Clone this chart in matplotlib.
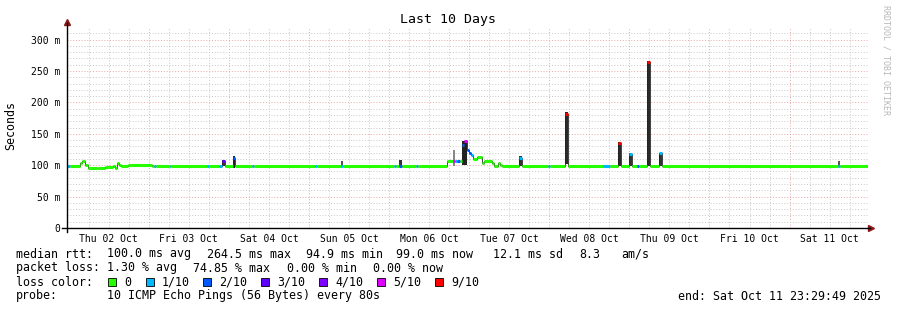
import matplotlib
matplotlib.use('Agg')
import matplotlib.pyplot as plt
from matplotlib.patches import Rectangle
import numpy as np

plt.rcParams['font.family'] = ['DejaVu Sans Mono']

# time axis: hours since Thu 02 Oct 00:00
day_labels = ['Thu 02 Oct', 'Fri 03 Oct', 'Sat 04 Oct', 'Sun 05 Oct', 'Mon 06 Oct',
              'Tue 07 Oct', 'Wed 08 Oct', 'Thu 09 Oct', 'Fri 10 Oct', 'Sat 11 Oct']
t_start, t_end = -0.5, 239.5

# median rtt (ms) as steps: start hour, value, loss class
med_hours = [-0.5, 0.4, 3.4, 4.0, 4.9, 5.8, 8.8, 10.9, 13.3, 13.9, 14.5, 15.1, 15.7, 17.8,
             25.0, 25.6, 26.2, 30.4, 30.8, 41.4, 42.0, 45.0, 45.9, 46.8, 49.2, 49.8,
             54.9, 55.5, 73.8, 74.4, 81.6, 82.2, 97.5, 98.1, 99.0, 99.9, 104.0, 104.6,
             113.3, 115.1, 115.7, 116.3, 117.2, 117.8, 118.5, 119.3, 119.9, 120.5, 121.1,
             122.3, 123.8, 124.4, 126.8, 127.4, 128.6, 129.2, 129.8, 134.9, 135.8,
             143.6, 144.2, 148.7, 149.6, 160.1, 162.2, 164.6, 165.5, 167.9, 168.8,
             170.3, 170.9, 173.3, 174.2, 176.9, 177.8, 230.5, 231.1]
med_ms = [98, 98, 103, 106, 100, 95, 95.5, 97, 99, 96, 104, 101, 98, 101,
          99.5, 99, 99, 99, 99, 99, 99, 99, 106, 99, 112, 99,
          99, 99, 99, 99, 99, 99, 99, 99, 99, 99, 99, 99,
          107, 107, 107, 107, 107, 132, 138, 124, 119, 116, 110,
          113, 104, 107, 103, 98, 104, 100, 99, 112, 99,
          99, 99, 182, 99, 99, 99, 136, 99, 118, 99,
          99, 99, 264, 99, 119, 99, 99, 99]
med_loss = [1, 0, 0, 0, 0, 0, 0, 0, 0, 0, 0, 0, 0, 0,
            0, 1, 0, 1, 0, 1, 0, 1, 3, 0, 2, 0,
            1, 0, 1, 0, 1, 0, 1, 0, 2, 0, 1, 0,
            0, 5, 1, 2, 0, 2, 5, 2, 2, 1, 0,
            0, 0, 0, 0, 0, 0, 0, 0, 1, 0,
            1, 0, 6, 0, 1, 0, 6, 0, 1, 0,
            2, 0, 6, 0, 1, 0, 1, 0]

# smoke columns: start hour, width (h), low ms, high ms, shade
smoke_hours = [45.9, 49.2, 81.6, 99.0, 115.3, 117.8, 134.9, 148.7, 164.6, 167.9, 173.3, 176.9, 230.5]
smoke_width = [0.9, 0.6, 0.6, 0.9, 0.6, 1.5, 0.9, 0.9, 0.9, 0.9, 0.9, 0.9, 0.6]
smoke_low = [99, 95, 99, 99, 99, 100, 99, 102, 99, 99, 99, 99, 99]
smoke_high = [108, 114, 107, 108, 124, 138, 114, 184, 137, 120, 266, 120, 107]
smoke_shade = ['#333333', '#222222', '#555555', '#333333', '#888888', '#222222', '#333333',
               '#2a2a2a', '#2a2a2a', '#333333', '#2a2a2a', '#333333', '#555555']

loss_colors = ['#26ff00', '#00b8ff', '#0059ff', '#5e00ff', '#7e00ff', '#dd00ff', '#ff0000']
loss_names = ['0', '1/10', '2/10', '3/10', '4/10', '5/10', '9/10']

W, H = 897, 310
fig = plt.figure(figsize=(W / 100, H / 100), dpi=100)
ax = fig.add_axes([67 / W, 1 - 228 / H, 801 / W, 201 / H])
ax.set_xlim(t_start, t_end)
ax.set_ylim(0, 320)

# grid
minor_c = '#c2c2c2'
major_c = '#e49c9c'
for h in np.arange(6, 240, 6):
    c = major_c if h % 24 == 0 else minor_c
    ax.axvline(h, color=c, lw=0.6, ls=(0, (1.2, 2.2)), zorder=0)
for v in np.arange(10, 320, 10):
    c = major_c if v % 50 == 0 else minor_c
    ax.axhline(v, color=c, lw=0.6, ls=(0, (1.2, 2.2)), zorder=0)

# smoke
ax.bar(smoke_hours, np.array(smoke_high) - np.array(smoke_low), width=smoke_width,
       bottom=smoke_low, align='edge', color=smoke_shade, zorder=2)

# median line
ends = med_hours[1:] + [t_end]
ax.step(med_hours + [t_end], med_ms + [med_ms[-1]], where='post', color='#222222', lw=0.6, zorder=3)
ax.hlines(med_ms, med_hours, ends, colors=[loss_colors[i] for i in med_loss], lw=2.2, zorder=4)

# axes
for s in ax.spines.values():
    s.set_visible(False)
ax.plot([0, 0], [-0.02, 1.02], transform=ax.transAxes, color='black', lw=1, clip_on=False, zorder=5)
ax.plot([-0.006, 1.002], [0, 0], transform=ax.transAxes, color='black', lw=1, clip_on=False, zorder=5)
ax.plot(0, 1.025, marker='^', color='#8b1a1a', ms=4, transform=ax.transAxes, clip_on=False)
ax.plot(1.004, 0, marker='>', color='#8b1a1a', ms=4, transform=ax.transAxes, clip_on=False)

ax.set_yticks(np.arange(0, 301, 50))
ax.set_yticklabels(['0'] + ['%d m' % v for v in range(50, 301, 50)])
ax.tick_params(axis='y', length=0, pad=5, labelsize=7)
ax.set_xticks(np.arange(12, 240, 24))
ax.set_xticklabels(day_labels)
ax.tick_params(axis='x', length=0, pad=4, labelsize=7)

fig.text(448 / W, 1 - 19 / H, 'Last 10 Days', ha='center', va='center', fontsize=9.5)
fig.text(11 / W, 1 - 125 / H, 'Seconds', rotation=90, ha='center', va='center', fontsize=8.4)
fig.text(886 / W, 1 - 60 / H, 'RRDTOOL / TOBI OETIKER', rotation=270, ha='center', va='center',
         fontsize=6, color='#b8b8b8')

fs = 8.4
def put(x, y, s, **kw):
    fig.text(x / W, 1 - y / H, s, ha=kw.pop('ha', 'left'), va='center', fontsize=fs, **kw)

put(16, 254, 'median rtt:')
put(107, 254, '100.0 ms avg')
put(207, 254, '264.5 ms max')
put(306, 254, '94.9 ms min')
put(396, 254, '99.0 ms now')
put(493, 254, '12.1 ms sd')
put(579, 254, '8.3')
put(621, 254, 'am/s')

put(16, 268, 'packet loss:')
put(107, 268, '1.30 % avg')
put(193, 268, '74.85 % max')
put(287, 268, '0.00 % min')
put(373, 268, '0.00 % now')

put(16, 282, 'loss color:')
sq_x = [108, 146, 203, 261, 319, 377, 435]
for x, c, n in zip(sq_x, loss_colors, loss_names):
    fig.patches.append(Rectangle((x / W, 1 - 286 / H), 8 / W, 8 / H, transform=fig.transFigure,
                                 facecolor=c, edgecolor='black', lw=0.6))
    put(x + 16, 282, n)

put(16, 296, 'probe:')
put(107, 296, '10 ICMP Echo Pings (56 Bytes) every 80s')
put(881, 296, 'end: Sat Oct 11 23:29:49 2025', ha='right')

fig.savefig('out.png', dpi=100)
